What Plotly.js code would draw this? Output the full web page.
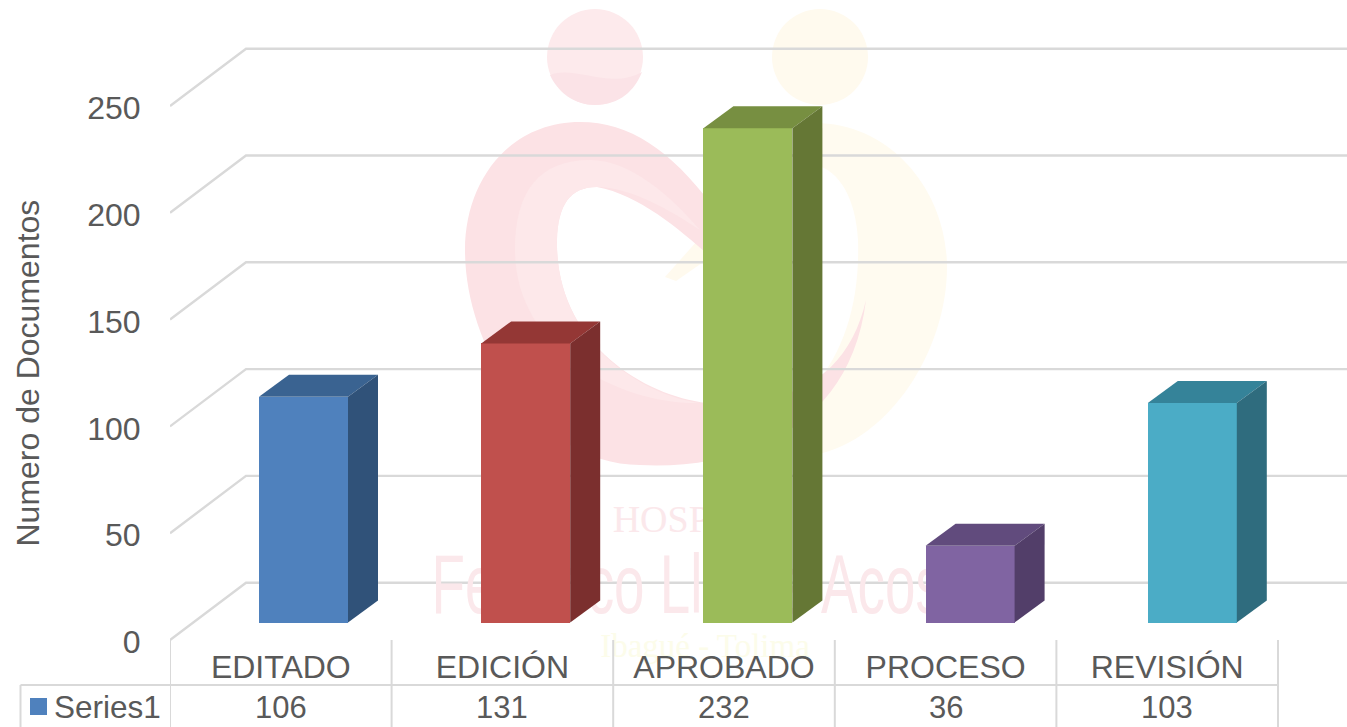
<!DOCTYPE html>
<html>
<head>
<meta charset="utf-8">
<script src="https://cdn.plot.ly/plotly-3.0.1.min.js"></script>
<style>html,body{margin:0;padding:0;background:#fff;overflow:hidden}</style>
</head>
<body>
<div id="chart" style="width:1347px;height:727px"></div>
<script>
// ---- data ----
const categories = ['EDITADO', 'EDICIÓN', 'APROBADO', 'PROCESO', 'REVISIÓN'];
const seriesName = 'Series1';
const values = [106, 131, 232, 36, 103];
const yTicks = [0, 50, 100, 150, 200, 250];
const frontColors = ['#4f81bd', '#c0504d', '#9bbb59', '#8064a2', '#4bacc6'];
const topColors = ['#3a6391', '#943735', '#778f41', '#614b7d', '#358399'];
const sideColors = ['#305279', '#7b2f2e', '#657735', '#523e69', '#2f6c7e'];

// ---- geometry of the pseudo-3D plot ----
const W = 1347, H = 727, L = 170, B = 85, floorY = 640;
const plotW = W - L, plotH = H - B;
const catPx = 221.6, valPx = 2.136, barValPx = 2.13, below = plotH - floorY;
const xMax = plotW / catPx;
const yRange = [-below / valPx, floorY / valPx], y2Range = [-below / barValPx, floorY / barValPx];
const backDx = 76 / catPx, backDy = 57.3 / valPx;
const barPitch = 222.2 / catPx, barOff = 89 / catPx, barW = 89 / catPx;
const barLift = 17.5 / barValPx, barDx = 30 / catPx, barDy = 22 / barValPx;
const tickNudge = 0.9;
const GRID = '#d9d9d9', TEXT = '#595959', FONT = 'Liberation Sans, Arial, sans-serif';

const px = v => (v - L) / plotW;          // pixel x to paper
const py = v => (plotH - v) / plotH;      // pixel y to paper
const pathToPaper = s => s.replace(/(-?[\d.]+),(-?[\d.]+)/g, (m, a, b) => px(+a).toFixed(5) + ',' + py(+b).toFixed(5));
const wmPath = (d, fill) => ({type: 'path', xref: 'paper', yref: 'paper', layer: 'below', path: pathToPaper(d), fillcolor: fill, line: {width: 0}});
const wmCircle = (cx, cy, r, fill) => ({type: 'circle', xref: 'paper', yref: 'paper', layer: 'below', x0: px(cx - r), x1: px(cx + r), y0: py(cy + r), y1: py(cy - r), fillcolor: fill, line: {width: 0}});

// ---- watermark logo ----
const shapes = [
  wmCircle(820, 57, 48, '#fffaee'),
  wmPath('M 815,123 C 890,123 947,190 947,267 C 947,350 890,440 815,455 L 815,385 C 845,350 860,300 858,240 C 856,200 840,170 815,165 Z', '#fffbf0'),
  wmPath('M 665,277 L 698,240 L 712,256 L 676,281 Z', '#fffaee'),
  wmCircle(595, 57, 48, '#fdeaec'),
  wmPath('M 550,75 C 575,65 610,90 642,72 C 635,90 620,105 595,105 C 575,105 558,92 550,75 Z', '#fbe3e7'),
  wmPath('M 712,205 C 670,150 630,122 580,122 C 510,122 465,180 465,250 C 465,350 540,465 640,465 C 740,470 850,430 866,300 C 850,370 800,408 707,403 C 640,395 555,340 557,240 C 558,205 570,187 597,187 C 640,195 680,230 712,258 Z', '#fce2e5'),
  wmPath('M 515,250 C 515,190 540,160 590,160 C 630,160 670,195 700,230 C 670,210 630,187 597,187 C 570,187 558,205 557,240 C 555,340 640,395 700,403 C 620,405 515,350 515,250 Z', '#fde8ea'),
];

// ---- walls and gridlines, computed from the tick values ----
for (const v of yTicks) {
  shapes.push({type: 'path', xref: 'x', yref: 'y', layer: 'below',
    path: `M 0,${v} L ${backDx},${v + backDy} L ${xMax},${v + backDy}`,
    line: {color: GRID, width: 2.4}});
}

// ---- data table ----
const tableLine = {color: GRID, width: 2};
for (let i = 0; i <= categories.length; i++) {
  shapes.push({type: 'line', xref: 'x', yref: 'paper', x0: i, x1: i, y0: py(640), y1: py(727), line: tableLine});
}
const tableRight = L + catPx * categories.length;
shapes.push({type: 'line', xref: 'paper', yref: 'paper', x0: px(20.5), x1: px(tableRight), y0: py(685), y1: py(685), line: tableLine});
shapes.push({type: 'line', xref: 'paper', yref: 'paper', x0: px(20.5), x1: px(20.5), y0: py(685), y1: py(727), line: tableLine});
shapes.push({type: 'rect', xref: 'paper', yref: 'paper', x0: px(30), x1: px(47), y0: py(715), y1: py(698), fillcolor: frontColors[0], line: {width: 0}});

const annotations = values.map((v, i) => ({
  xref: 'x', yref: 'paper', x: i + 0.5, y: py(707), text: String(v), showarrow: false,
  xanchor: 'center', yanchor: 'middle', font: {family: FONT, size: 31, color: TEXT}
}));
annotations.push({xref: 'paper', yref: 'paper', x: px(54), y: py(707), text: seriesName, showarrow: false,
  xanchor: 'left', yanchor: 'middle', xshift: -2, font: {family: FONT, size: 31.5, color: TEXT}});
annotations.push({xref: 'paper', yref: 'paper', x: px(27), y: py(373.5), text: 'Numero de Documentos', showarrow: false,
  textangle: -90, xanchor: 'center', yanchor: 'middle', font: {family: FONT, size: 32, color: TEXT}});

// ---- traces ----
const wmText = (t, cx, cy, family, size, color, pos) => ({
  type: 'scatter', mode: 'text', x: [(cx - L) / catPx], y: [(floorY - cy) / valPx], text: [t],
  textposition: pos || 'middle center', cliponaxis: false, showlegend: false, hoverinfo: 'skip',
  textfont: {family: family, size: size, color: color}, xaxis: 'x', yaxis: 'y'
});
const traces = [
  wmText('HOSPITAL', 703, 522, 'Liberation Serif, serif', 38, '#fbe8eb'),
  wmText('Federico Lleras Acosta', 710, 592, 'Liberation Sans, sans-serif', 84, '#fbe8eb'),
  wmText('Ibagué - Tolima', 705, 632, 'Liberation Serif, serif', 33, '#fcfcea', 'bottom center'),
];

traces.push({
  type: 'bar', name: seriesName, x: values.map((_, i) => i * barPitch + barOff + barW / 2), y: values, base: values.map(() => barLift),
  width: barW, marker: {color: frontColors, line: {width: 0}}, customdata: categories,
  hovertemplate: '%{customdata}: %{y}<extra></extra>', showlegend: false, xaxis: 'x2', yaxis: 'y2'
});
values.forEach((v, i) => {
  const xl = i * barPitch + barOff, xr = xl + barW, b = barLift, t = barLift + v;
  const poly = (xs, ys, color) => ({type: 'scatter', mode: 'lines', x: xs, y: ys, fill: 'toself', fillcolor: color,
    line: {width: 0, color: color}, hoverinfo: 'skip', showlegend: false, xaxis: 'x2', yaxis: 'y2'});
  traces.push(poly([xl, xl + barDx, xr + barDx, xr, xl], [t, t + barDy, t + barDy, t, t], topColors[i]));
  traces.push(poly([xr, xr + barDx, xr + barDx, xr, xr], [b, b + barDy, t + barDy, t, b], sideColors[i]));
});

const layout = {
  width: W, height: H, margin: {l: L, r: 0, t: 0, b: B, pad: 0},
  paper_bgcolor: '#fff', plot_bgcolor: 'rgba(0,0,0,0)', showlegend: false, bargap: 0,
  font: {family: FONT, color: TEXT},
  xaxis: {range: [0, xMax], tickmode: 'array', tickvals: categories.map((_, i) => i + 0.5), ticktext: categories,
    showgrid: false, zeroline: false, showline: false, ticks: '', ticklabelstandoff: 3,
    tickfont: {family: FONT, size: 32, color: TEXT}, fixedrange: true},
  yaxis: {range: yRange, tickmode: 'array', tickvals: yTicks.map(v => v - tickNudge), ticktext: yTicks.map(String),
    showgrid: false, zeroline: false, showline: false, ticks: 'outside', ticklen: 22, tickcolor: 'rgba(0,0,0,0)',
    tickfont: {family: FONT, size: 32, color: TEXT}, fixedrange: true},
  xaxis2: {overlaying: 'x', anchor: 'y2', range: [0, xMax], visible: false, fixedrange: true},
  yaxis2: {overlaying: 'y', anchor: 'x2', range: y2Range, visible: false, fixedrange: true},
  shapes: shapes, annotations: annotations
};
Plotly.newPlot('chart', traces, layout, {displayModeBar: false, responsive: false}).then(gd => {
  // the hospital name in the watermark is a tall condensed face: narrow the real text horizontally
  gd.querySelectorAll('.textpoint text').forEach(el => {
    if (el.textContent.indexOf('Federico') === 0) {
      const cx = parseFloat(el.getAttribute('x'));
      el.setAttribute('transform', `translate(${cx},0) scale(0.652,1) translate(${-cx},0)`);
    }
  });
});
</script>
</body>
</html>
